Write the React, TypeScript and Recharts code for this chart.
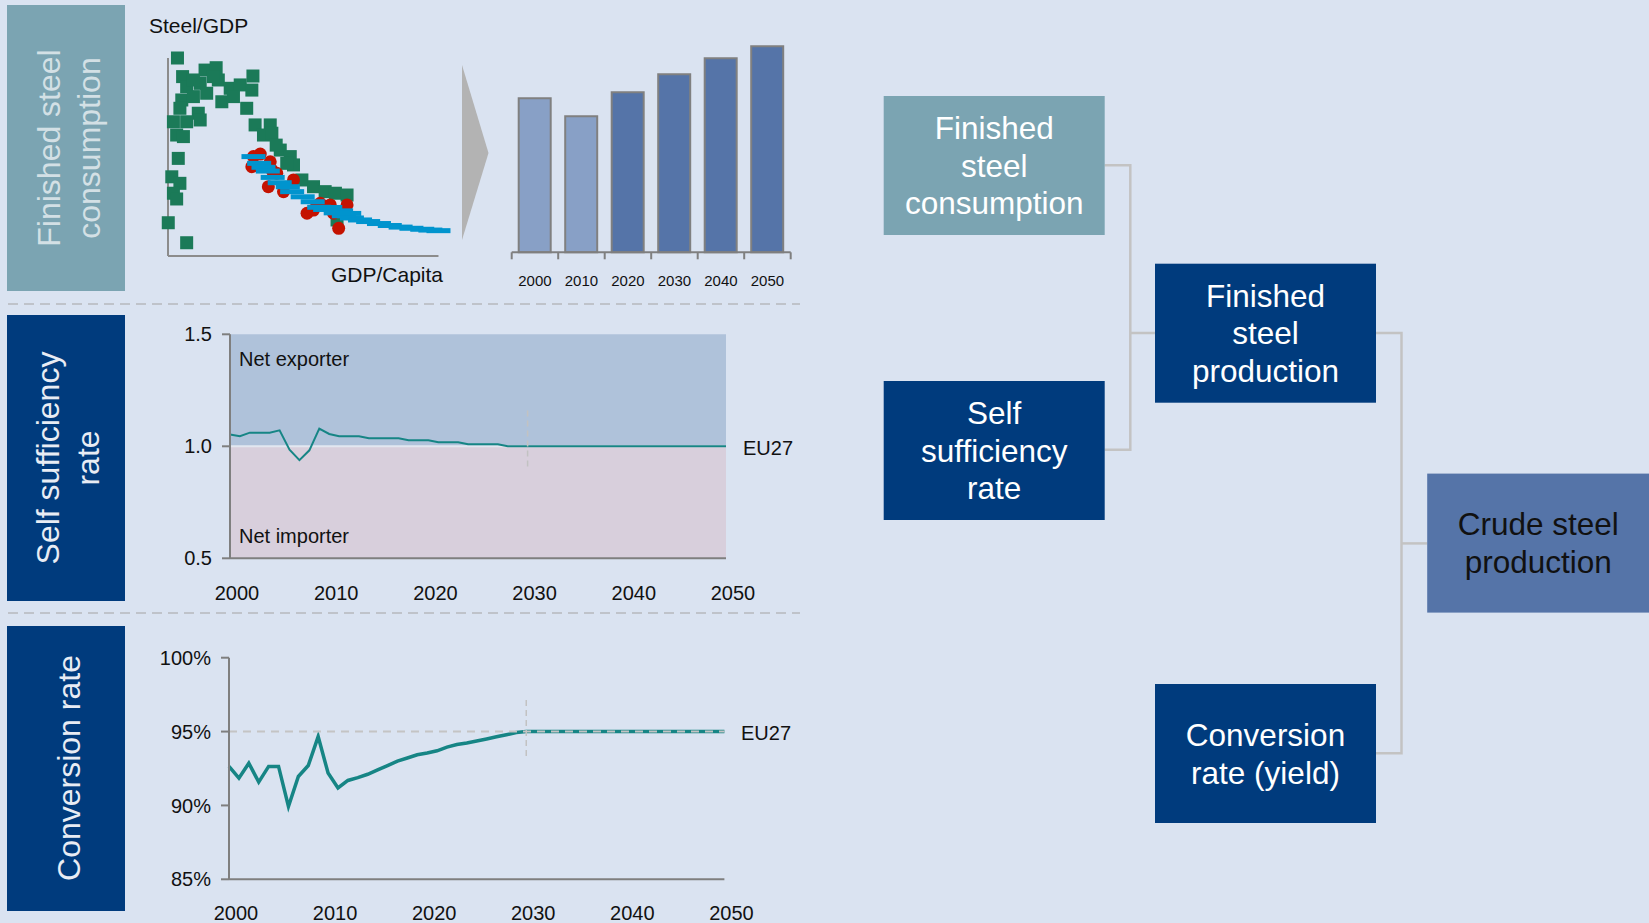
import React from "react";
import {
  ScatterChart,
  Scatter,
  BarChart,
  Bar,
  Cell,
  LineChart,
  Line,
  XAxis,
  YAxis,
  ReferenceArea,
  ReferenceLine,
} from "recharts";

const FONT = '"Liberation Sans", Arial, Helvetica, sans-serif';

// scatter: steel intensity vs GDP per capita (relative units)
const greenPoints = [
  [3.5, 100], [5.4, 90.6], [13.7, 93.9], [17.8, 95.1], [31.4, 90.9], [6.9, 85.5],
  [11.9, 87.2], [18.6, 88.9], [23, 84.7], [26.7, 86.4], [31, 83.8], [5.1, 78.8],
  [9.4, 80.5], [14.3, 82.2], [19.9, 77.9], [24.2, 80.5], [4.4, 74.6], [11.2, 72.1],
  [29.1, 74.6], [2, 67.8], [6.9, 67.8], [11.9, 68.7], [32.2, 66.2], [37.8, 66.2],
  [3.2, 61.1], [5.7, 60.3], [35.3, 61.1], [38.4, 62], [3.8, 49.3], [41.5, 53.5],
  [45.2, 50.2], [46.4, 46], [1.4, 40], [4.4, 36.7], [2, 31.7], [3.2, 28.8],
  [49.5, 38.4], [53.8, 35], [58.1, 32.5], [61.9, 31.7], [66.2, 30.8], [62.5, 18.2],
  [0.1, 16.8], [6.9, 6.7], [43.9, 46.8], [16.8, 90.6], [9.4, 88.9], [40, 56],
];
const redPoints = [
  [31.6, 50.2], [34.1, 51.5], [31, 45.1], [37.8, 47.6], [38.4, 43.4], [37.1, 35],
  [42.7, 32.5], [46.4, 38.4], [51.4, 21.6], [53.8, 23.2], [56.3, 26.6], [60, 25.8],
  [61.2, 21.6], [66.2, 25.8], [63.1, 14], [40.2, 41.8],
];
const bluePoints = [
  [31.6, 50.2], [33.7, 46.8], [35.3, 44.8], [36.9, 42.9], [38.7, 39.7], [41.3, 37],
  [44.3, 35], [45.9, 32.5], [49.8, 29.9], [53.5, 27.4], [55.9, 24.6], [58.1, 23.5],
  [60, 24.5], [62, 21.8], [64, 22.8], [65, 20.3], [67, 21.5], [68, 19.2], [71, 18.2],
  [74, 17.4], [78, 16.4], [82, 15.4], [86, 14.6], [90, 14], [94, 13.5], [97, 13.1],
  [100, 12.8],
];

// finished steel consumption bars
const barYears = ["2000", "2010", "2020", "2030", "2040", "2050"];
const barValues = [154, 136, 160, 178, 194, 206];

// self sufficiency rate, EU27
const ssYears = [
  2000, 2001, 2002, 2003, 2004, 2005, 2006, 2007, 2008, 2009, 2010, 2011, 2012, 2013,
  2014, 2015, 2016, 2017, 2018, 2019, 2020, 2021, 2022, 2023, 2024, 2025, 2026, 2027,
  2028, 2050,
];
const ssValues = [
  1.053, 1.045, 1.061, 1.061, 1.061, 1.071, 0.985, 0.938, 0.982, 1.079, 1.055, 1.045,
  1.045, 1.045, 1.036, 1.036, 1.036, 1.036, 1.027, 1.027, 1.027, 1.018, 1.018, 1.018,
  1.009, 1.009, 1.009, 1.009, 1.0, 1.0,
];

// conversion rate (yield), EU27, %
const crYears = [
  2000, 2001, 2002, 2003, 2004, 2005, 2006, 2007, 2008, 2009, 2010, 2011, 2012, 2013,
  2014, 2015, 2016, 2017, 2018, 2019, 2020, 2021, 2022, 2023, 2024, 2025, 2026, 2027,
  2028, 2029, 2030, 2050,
];
const crValues = [
  92.64, 91.85, 92.86, 91.58, 92.64, 92.64, 89.93, 91.96, 92.7, 94.66, 92.19, 91.18,
  91.69, 91.88, 92.11, 92.41, 92.7, 93.0, 93.21, 93.43, 93.55, 93.7, 93.95, 94.12,
  94.23, 94.36, 94.5, 94.65, 94.79, 94.93, 95.0, 95.0,
];

const yearTicks = [2000, 2010, 2020, 2030, 2040, 2050];

const toXY = (pts: number[][]) => pts.map(([x, y]) => ({ x, y }));
const barData = barYears.map((year, i) => ({ year, value: barValues[i] }));
const ssData = ssYears.map((year, i) => ({ year, v: ssValues[i] }));
const crData = crYears.map((year, i) => ({ year, v: crValues[i] }));

const BG = "#DAE3F1";
const TEAL_PANEL = "#7BA4B2";
const NAVY = "#003B7D";
const MID_BLUE = "#5574A8";
const AXIS = "#7F7F7F";
const LINE = "#168585";

const squareShape = (p: any) => (
  <rect x={p.cx - 6.5} y={p.cy - 6.5} width={13} height={13} fill="#1B7A58" />
);
const circleShape = (p: any) => <circle cx={p.cx} cy={p.cy} r={6.5} fill="#C41200" />;
const dashShape = (p: any) => (
  <rect x={p.cx - 12} y={p.cy - 2.5} width={24} height={5} fill="#0094CE" />
);

const abs = (left: number, top: number): React.CSSProperties => ({
  position: "absolute",
  left,
  top,
});

const boxLines = (
  x: number,
  y: number,
  w: number,
  h: number,
  fill: string,
  lines: string[],
  color: string
) => {
  const cx = x + w / 2;
  const cy = y + h / 2;
  return (
    <g key={lines.join(" ")}>
      <rect x={x} y={y} width={w} height={h} fill={fill} />
      {lines.map((t, i) => (
        <text
          key={t}
          x={cx}
          y={cy + 11.1 + (i - (lines.length - 1) / 2) * 37.8}
          textAnchor="middle"
          fontSize={31.5}
          fill={color}
        >
          {t}
        </text>
      ))}
    </g>
  );
};

export default function App() {
  const axisLine = { stroke: AXIS, strokeWidth: 2 };
  return (
    <div
      style={{
        position: "relative",
        width: 1649,
        height: 923,
        background: BG,
        overflow: "hidden",
        fontFamily: FONT,
      }}
    >
      <style>{"body{margin:0}"}</style>

      {/* steel intensity scatter */}
      <div style={abs(140, 30)}>
        <ScatterChart width={330} height={250} margin={{ top: 28, right: 18, bottom: 24, left: 28 }}>
          <XAxis type="number" dataKey="x" domain={[0, 105]} hide />
          <YAxis type="number" dataKey="y" domain={[0, 100]} hide />
          <Scatter data={toXY(greenPoints)} shape={squareShape} isAnimationActive={false} />
          <Scatter data={toXY(redPoints)} shape={circleShape} isAnimationActive={false} />
          <Scatter data={toXY(bluePoints)} shape={dashShape} isAnimationActive={false} />
          <ReferenceLine
            segment={[{ x: 0, y: 0 }, { x: 0, y: 100 }]}
            stroke="#8C8C8C"
            strokeWidth={2}
          />
          <ReferenceLine
            segment={[{ x: 0, y: 0 }, { x: 100, y: 0 }]}
            stroke="#8C8C8C"
            strokeWidth={2}
          />
        </ScatterChart>
      </div>

      {/* finished steel consumption bars */}
      <div style={abs(490, 20)}>
        <BarChart
          width={320}
          height={290}
          data={barData}
          margin={{ top: 22.3, right: 19.3, bottom: 17.7, left: 21.7 }}
          barSize={32}
        >
          <XAxis
            dataKey="year"
            axisLine={axisLine}
            tickLine={false}
            tickSize={0}
            tickMargin={23.4}
            height={40}
            interval={0}
            tick={{ fill: "#111", fontSize: 15, fontFamily: FONT }}
          />
          <YAxis domain={[0, 210]} hide />
          <Bar dataKey="value" stroke="#808080" strokeWidth={2} isAnimationActive={false}>
            {barData.map((d, i) => (
              <Cell key={d.year} fill={i < 2 ? "#88A0C6" : MID_BLUE} />
            ))}
          </Bar>
          {barYears.map((y) => (
            <ReferenceLine
              key={y}
              segment={[{ x: y, y: 0 }, { x: y, y: -7 }]}
              position="start"
              ifOverflow="visible"
              stroke={AXIS}
              strokeWidth={2}
            />
          ))}
          <ReferenceLine
            segment={[{ x: "2050", y: 0 }, { x: "2050", y: -7 }]}
            position="end"
            ifOverflow="visible"
            stroke={AXIS}
            strokeWidth={2}
          />
        </BarChart>
      </div>

      {/* self sufficiency rate */}
      <div style={abs(130, 310)}>
        <LineChart
          width={660}
          height={300}
          data={ssData}
          margin={{ top: 24.3, right: 64, bottom: 6.7, left: 40 }}
        >
          <ReferenceArea y1={1} y2={1.5} fill="#AFC2DA" fillOpacity={1} stroke="none" />
          <ReferenceArea y1={0.5} y2={1} fill="#D8CFDC" fillOpacity={1} stroke="none" />
          <ReferenceLine y={1} stroke="#E2E7F0" strokeWidth={2} />
          <XAxis
            type="number"
            dataKey="year"
            domain={[2000, 2050]}
            ticks={yearTicks}
            axisLine={axisLine}
            tickLine={false}
            tickSize={0}
            tickMargin={27}
            height={45}
            tick={{ fill: "#111", fontSize: 20, fontFamily: FONT, dx: 7 }}
          />
          <YAxis
            type="number"
            domain={[0.5, 1.5]}
            ticks={[0.5, 1, 1.5]}
            tickFormatter={(v: number) => v.toFixed(1)}
            width={60}
            axisLine={axisLine}
            tickLine={axisLine}
            tickSize={8}
            tickMargin={10}
            tick={{ fill: "#111", fontSize: 20, fontFamily: FONT }}
          />
          <Line
            dataKey="v"
            type="linear"
            stroke={LINE}
            strokeWidth={2}
            dot={false}
            isAnimationActive={false}
          />
          <ReferenceLine
            segment={[{ x: 2030, y: 1.16 }, { x: 2030, y: 0.893 }]}
            stroke="#C2C2C2"
            strokeWidth={1.5}
            strokeDasharray="6 4"
          />
        </LineChart>
      </div>

      {/* conversion rate */}
      <div style={abs(130, 630)}>
        <LineChart
          width={660}
          height={293}
          data={crData}
          margin={{ top: 27.7, right: 65.6, bottom: 3.7, left: 39 }}
        >
          <XAxis
            type="number"
            dataKey="year"
            domain={[2000, 2050]}
            ticks={yearTicks}
            axisLine={axisLine}
            tickLine={false}
            tickSize={0}
            tickMargin={26.4}
            height={40}
            tick={{ fill: "#111", fontSize: 20, fontFamily: FONT, dx: 7 }}
          />
          <YAxis
            type="number"
            domain={[85, 100]}
            ticks={[85, 90, 95, 100]}
            tickFormatter={(v: number) => `${v}%`}
            width={60}
            axisLine={axisLine}
            tickLine={axisLine}
            tickSize={8}
            tickMargin={10}
            tick={{ fill: "#111", fontSize: 20, fontFamily: FONT }}
          />
          <Line
            dataKey="v"
            type="linear"
            stroke={LINE}
            strokeWidth={3.5}
            dot={false}
            isAnimationActive={false}
          />
          <ReferenceLine
            y={95}
            stroke="#C4C4C4"
            strokeWidth={2}
            strokeDasharray="8 6"
            zIndex={450}
          />
          <ReferenceLine
            segment={[{ x: 2030, y: 97.14 }, { x: 2030, y: 93.09 }]}
            stroke="#C2C2C2"
            strokeWidth={1.5}
            strokeDasharray="6 4"
          />
        </LineChart>
      </div>

      {/* labels, panels, flow diagram */}
      <svg
        width={1649}
        height={923}
        style={{ position: "absolute", left: 0, top: 0, pointerEvents: "none" }}
        fontFamily={FONT}
      >
        <rect x={7} y={5} width={118} height={286} fill={TEAL_PANEL} />
        <rect x={7} y={315} width={118} height={286} fill={NAVY} />
        <rect x={7} y={626} width={118} height={285} fill={NAVY} />
        <g fontSize={32} textAnchor="middle">
          <text transform="translate(60,148) rotate(-90)" fill="#D3E0E5">Finished steel</text>
          <text transform="translate(100,148) rotate(-90)" fill="#D3E0E5">consumption</text>
          <text transform="translate(59,458) rotate(-90)" fill="#E8ECF4">Self sufficiency</text>
          <text transform="translate(99,458) rotate(-90)" fill="#E8ECF4">rate</text>
          <text transform="translate(80,768) rotate(-90)" fill="#E8ECF4">Conversion rate</text>
        </g>

        <line x1={8} y1={304} x2={800} y2={304} stroke="#BFC3CA" strokeWidth={2} strokeDasharray="10 6" />
        <line x1={8} y1={613} x2={800} y2={613} stroke="#BFC3CA" strokeWidth={2} strokeDasharray="10 6" />

        <polygon points="462,65 488.5,153 462,240" fill="#B3B3B3" />

        <text x={149} y={33} fontSize={21} fill="#111">Steel/GDP</text>
        <text x={331} y={282} fontSize={21} fill="#111">GDP/Capita</text>
        <text x={239} y={366} fontSize={20} fill="#111">Net exporter</text>
        <text x={239} y={542.5} fontSize={20} fill="#111">Net importer</text>
        <text x={743} y={455} fontSize={20} fill="#111">EU27</text>
        <text x={741} y={740} fontSize={20} fill="#111">EU27</text>

        <g fill="none" stroke="#C3C3C3" strokeWidth={2.5}>
          <polyline points="1104.6,165.3 1130.3,165.3 1130.3,449.8 1104.6,449.8" />
          <line x1={1130.3} y1={333} x2={1155} y2={333} />
          <polyline points="1375.9,333 1401.5,333 1401.5,753.3 1375.9,753.3" />
          <line x1={1401.5} y1={543.4} x2={1427.2} y2={543.4} />
        </g>

        {boxLines(883.7, 96, 221, 139, TEAL_PANEL, ["Finished", "steel", "consumption"], "#FFFFFF")}
        {boxLines(883.7, 381, 221, 139, NAVY, ["Self", "sufficiency", "rate"], "#FFFFFF")}
        {boxLines(1155, 263.7, 221, 139, NAVY, ["Finished", "steel", "production"], "#FFFFFF")}
        {boxLines(1155, 684, 221, 139, NAVY, ["Conversion", "rate (yield)"], "#FFFFFF")}
        {boxLines(1427.2, 473.6, 222, 139, MID_BLUE, ["Crude steel", "production"], "#111111")}
      </svg>
    </div>
  );
}
